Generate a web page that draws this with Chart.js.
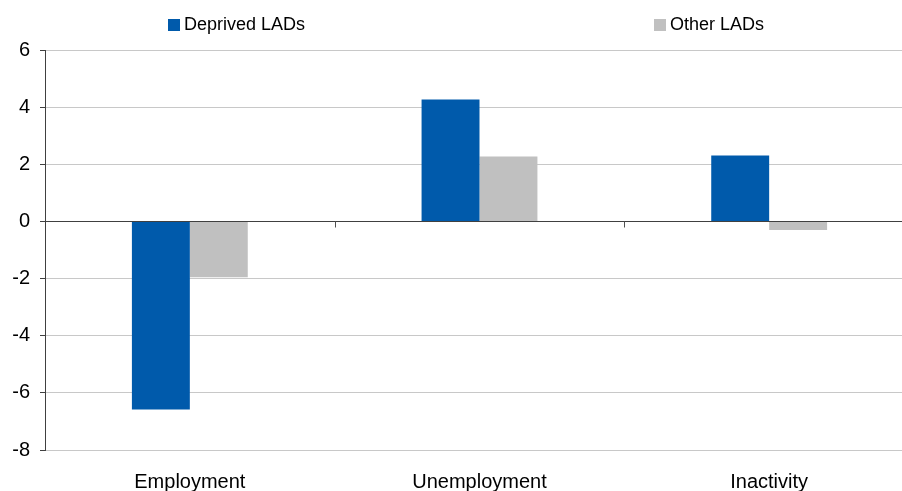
<!DOCTYPE html>
<html lang="en">
  <head>
    <meta charset="UTF-8" />
    <script src="https://cdn.jsdelivr.net/npm/chart.js@4/dist/chart.umd.min.js"></script>
    <title>LADs</title>
    <style>
      html, body { margin: 0; padding: 0; overflow: hidden; background: #fff; }
      #wrap { width: 916px; height: 491px; }
    </style>
  </head>
  <body>
    <div id="wrap">
      <canvas id="myChart" width="916" height="491"></canvas>
    </div>
    <script>
      const categories = ["Employment", "Unemployment", "Inactivity"];
      const deprivedValues = [-6.58, 4.27, 2.31];
      const otherValues = [-1.95, 2.27, -0.3];
      const seriesNames = ["Deprived LADs", "Other LADs"];
      const yMin = -8;
      const yMax = 6;
      const yStep = 2;

      const font = "'Liberation Sans', Arial, sans-serif";

      // legend drawn by hand so the two items sit far apart like the original
      const legendPlugin = {
        id: "wideLegend",
        afterDraw(chart) {
          const c = chart.ctx;
          const starts = [168, 654];
          c.save();
          c.font = "18px " + font;
          c.textBaseline = "middle";
          chart.data.datasets.forEach((ds, i) => {
            c.fillStyle = ds.backgroundColor;
            c.fillRect(starts[i], 19, 12, 12);
            c.fillStyle = "#000";
            c.fillText(ds.label, starts[i] + 16, 25);
          });
          c.restore();
        },
      };

      // short ticks under the zero line between categories
      const zeroTicks = {
        id: "zeroTicks",
        afterDatasetsDraw(chart) {
          const x = chart.scales.x;
          const y0 = Math.round(chart.scales.y.getPixelForValue(0)) + 0.5;
          const c = chart.ctx;
          c.save();
          c.strokeStyle = "#505050";
          c.lineWidth = 1;
          for (let i = 0; i < categories.length - 1; i++) {
            const px = Math.round((x.getPixelForValue(i) + x.getPixelForValue(i + 1)) / 2) + 0.5;
            c.beginPath();
            c.moveTo(px, y0);
            c.lineTo(px, y0 + 6);
            c.stroke();
          }
          c.restore();
        },
      };

      new Chart(document.getElementById("myChart"), {
        type: "bar",
        plugins: [legendPlugin, zeroTicks],
        data: {
          labels: categories,
          datasets: [
            {
              label: seriesNames[0],
              data: deprivedValues,
              backgroundColor: "#005AAB",
              categoryPercentage: 0.4,
              barPercentage: 1,
            },
            {
              label: seriesNames[1],
              data: otherValues,
              backgroundColor: "#C0C0C0",
              categoryPercentage: 0.4,
              barPercentage: 1,
            },
          ],
        },
        options: {
          responsive: false,
          animation: false,
          layout: { padding: { top: 50, right: 2, left: 0, bottom: 0 } },
          plugins: {
            legend: { display: false },
            tooltip: { enabled: false },
          },
          scales: {
            x: {
              grid: { display: false, drawTicks: false, tickLength: 0 },
              border: { display: false },
              ticks: { color: "#000", font: { family: font, size: 20 }, padding: 20 },
              afterFit(scale) { scale.height = 41; },
            },
            y: {
              min: yMin,
              max: yMax,
              ticks: { stepSize: yStep, color: "#000", font: { family: font, size: 20 }, padding: 10 },
              grid: {
                color: (ctx) => (ctx.tick && ctx.tick.value === 0 ? "#404040" : "#c8c8c8"),
                tickColor: "#404040",
                tickLength: 5,
              },
              border: { color: "#404040" },
              afterFit(scale) { scale.width = 45; },
            },
          },
        },
      });
    </script>
  </body>
</html>
